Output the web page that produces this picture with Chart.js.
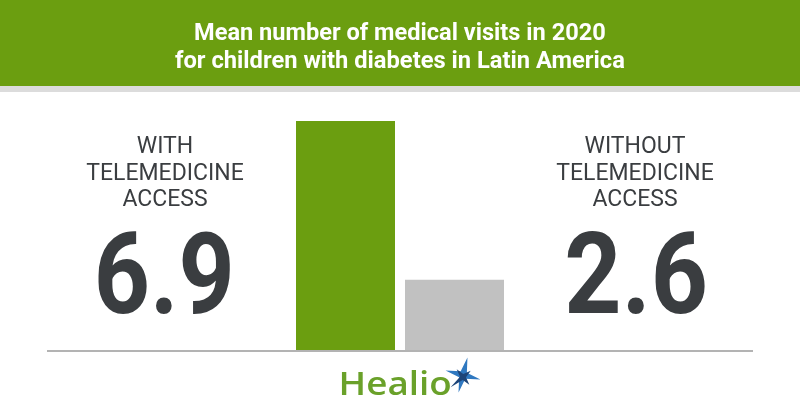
<!DOCTYPE html>
<html>
<head>
<meta charset="utf-8">
<script src="https://cdn.jsdelivr.net/npm/chart.js@4"></script>
<style>
  html, body { margin: 0; padding: 0; background: #fff; }
  canvas { display: block; }
</style>
</head>
<body>
<canvas id="chart" width="800" height="420"></canvas>
<script>
const titleLines = ['Mean number of medical visits in 2020', 'for children with diabetes in Latin America'];
const categories = ['With telemedicine access', 'Without telemedicine access'];
const labelLines = [['WITH', 'TELEMEDICINE', 'ACCESS'], ['WITHOUT', 'TELEMEDICINE', 'ACCESS']];
const meanVisits = [6.9, 2.6];
const brand = 'Healio';

const GREEN = '#6b9e10';
const GREY_BAR = '#c1c1c1';
const INK = '#3a3d40';

// draws text so its ink spans exactly [x0, x0 + w]
function fitText(ctx, text, x0, y, w) {
  ctx.save();
  ctx.textAlign = 'left';
  ctx.textBaseline = 'alphabetic';
  const m = ctx.measureText(text);
  const ink = m.actualBoundingBoxLeft + m.actualBoundingBoxRight;
  const s = w / ink;
  ctx.translate(x0 + m.actualBoundingBoxLeft * s, y);
  ctx.scale(s, 1);
  ctx.fillText(text, 0, 0);
  ctx.restore();
}

function star(ctx, cx, cy, r, ri, rot, long) {
  ctx.beginPath();
  for (let i = 0; i < 8; i++) {
    const a = rot + i * Math.PI / 4;
    let rr = i % 2 ? ri : r;
    if (long && i === long) rr = r * 1.6;
    const px = cx + Math.cos(a) * rr, py = cy + Math.sin(a) * rr;
    i ? ctx.lineTo(px, py) : ctx.moveTo(px, py);
  }
  ctx.closePath();
  ctx.fill();
}

const infographic = {
  id: 'infographic',
  beforeDraw(chart) {
    const ctx = chart.ctx;
    ctx.save();
    ctx.fillStyle = GREEN;
    ctx.fillRect(0, 0, 800, 86);
    ctx.fillStyle = '#dcdcdc';
    ctx.fillRect(0, 86, 800, 6);

    ctx.fillStyle = '#ffffff';
    ctx.font = 'bold 24px Roboto';
    fitText(ctx, titleLines[0], 195, 40, 410);
    fitText(ctx, titleLines[1], 175, 68, 450);
    ctx.restore();
  },
  afterDatasetsDraw(chart) {
    const ctx = chart.ctx;
    const base = chart.scales.y.getPixelForValue(chart.scales.y.min);
    ctx.save();
    // baseline
    ctx.strokeStyle = '#b3b3b3';
    ctx.lineWidth = 2;
    ctx.beginPath();
    ctx.moveTo(47, base + 1);
    ctx.lineTo(753, base + 1);
    ctx.stroke();

    // side labels and big numbers
    const centers = [165, 635];
    const numInk = [[98, 132], [567, 138]];
    ctx.fillStyle = INK;
    labelLines.forEach((lines, i) => {
      ctx.font = '23px Roboto';
      ctx.textAlign = 'center';
      ctx.textBaseline = 'alphabetic';
      lines.forEach((t, k) => ctx.fillText(t, centers[i], 153 + k * 26.5));
      ctx.font = 'bold 114px Roboto';
      fitText(ctx, meanVisits[i].toFixed(1), numInk[i][0], 313, numInk[i][1]);
    });

    // logo
    ctx.fillStyle = '#6aa12a';
    ctx.font = '600 32px "Open Sans"';
    fitText(ctx, brand, 342, 395, 108);
    ctx.fillStyle = '#2f78c0';
    star(ctx, 463, 375, 18, 4.5, -Math.PI / 2 + 0.25, 0);
    ctx.fillStyle = '#1d4478';
    star(ctx, 463, 377, 10, 3, Math.PI / 4 + 0.1, 2);
    ctx.restore();
  }
};

new Chart(document.getElementById('chart'), {
  type: 'bar',
  data: {
    labels: categories,
    datasets: [{
      data: meanVisits,
      backgroundColor: [GREEN, GREY_BAR],
      borderWidth: 0,
      categoryPercentage: 1,
      barPercentage: 99 / 109
    }]
  },
  options: {
    responsive: false,
    animation: false,
    layout: { padding: { top: 121, bottom: 70, left: 291, right: 291 } },
    scales: {
      x: { display: false },
      y: { display: false, min: 0.7, max: 6.9 }
    },
    plugins: { legend: { display: false }, tooltip: { enabled: false } }
  },
  plugins: [infographic]
});
</script>
</body>
</html>
